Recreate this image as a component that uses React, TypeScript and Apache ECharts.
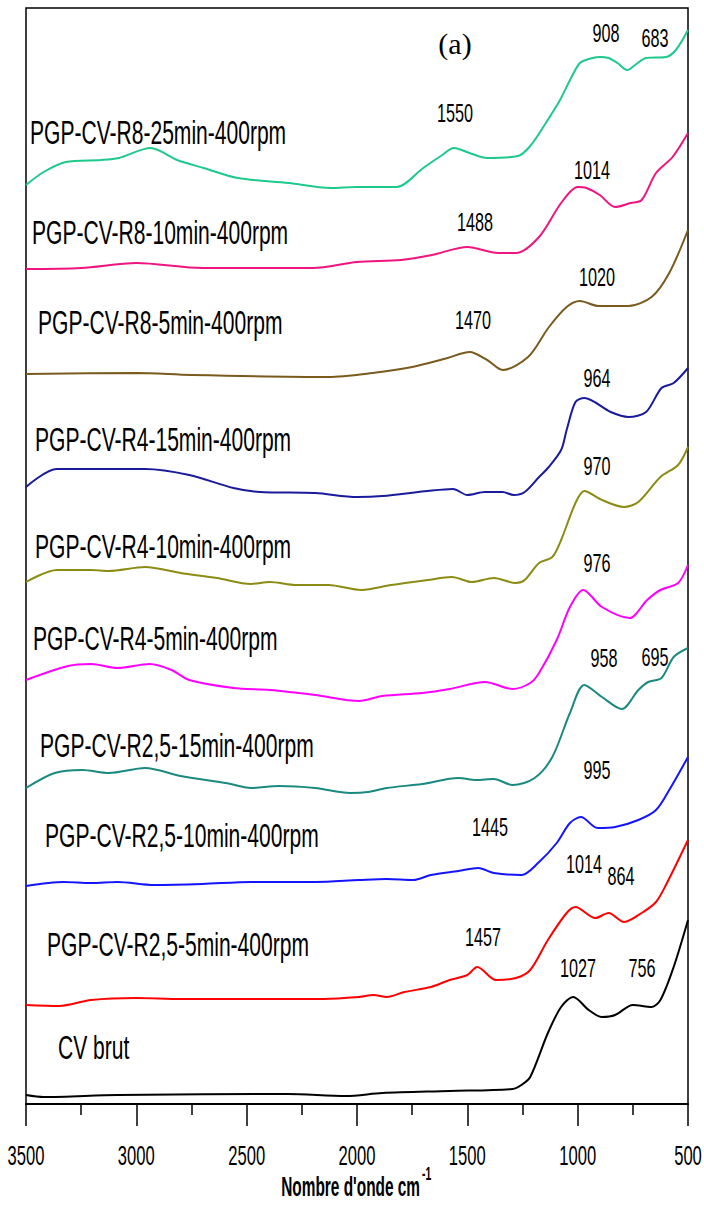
import React, { useEffect, useRef } from "react";
import * as echarts from "echarts";

// Wavenumber (cm-1) vs stacked intensity (a.u.)
const cvBrut = [[3500,9],[3420,7],[3085,9],[2315,10],[2050,8],[1885,11],[1580,13],[1295,15],[1255,19],[1215,27],[1135,71],[1075,97],[1020,107],[950,94],[890,87],[830,89],[750,99],[665,97],[625,104],[565,137],[500,184]];
const r25_5 = [[3500,99],[3350,98],[3205,104],[3000,106],[2800,105],[2440,105],[2150,105],[1990,107],[1925,109],[1865,107],[1785,112],[1665,117],[1580,124],[1500,129],[1455,137],[1370,124],[1280,126],[1215,134],[1135,164],[1050,191],[1010,197],[920,186],[860,191],[790,182],[710,191],[645,202],[600,219],[500,264]];
const r25_10 = [[3500,218],[3330,222],[3205,221],[3085,222],[2920,219],[2700,220],[2480,222],[2190,222],[1990,224],[1865,225],[1745,224],[1665,229],[1540,233],[1450,236],[1380,231],[1255,229],[1175,242],[1095,261],[1035,281],[985,287],[910,276],[830,277],[725,284],[645,294],[585,314],[500,347]];
const r25_15 = [[3500,316],[3370,331],[3245,334],[3125,331],[2960,336],[2800,328],[2595,321],[2480,316],[2355,318],[2190,316],[2030,311],[1950,312],[1865,316],[1705,320],[1540,326],[1460,324],[1380,325],[1295,319],[1195,326],[1115,347],[1035,391],[970,419],[890,407],[800,395],[725,414],[680,422],[620,426],[565,447],[500,456]];
const r4_5 = [[3500,424],[3310,438],[3205,440],[3085,436],[2940,440],[2840,434],[2760,424],[2560,416],[2395,414],[2190,409],[1990,403],[1885,408],[1705,411],[1580,415],[1420,422],[1295,415],[1215,421],[1175,431],[1095,464],[1035,497],[975,514],[890,497],[765,486],[685,504],[625,514],[545,521],[500,539]];
const r4_10 = [[3500,522],[3360,534],[3205,534],[3125,533],[2960,537],[2800,531],[2635,526],[2480,520],[2395,522],[2275,519],[2130,519],[1980,514],[1845,519],[1680,524],[1570,527],[1480,522],[1380,526],[1280,521],[1240,524],[1175,541],[1115,547],[1075,564],[1010,601],[970,613],[890,604],[790,597],[725,602],[625,627],[545,639],[500,657]];
const r4_15 = [[3500,617],[3360,635],[2960,635],[2760,629],[2560,616],[2440,612],[2190,611],[2000,607],[1885,608],[1680,613],[1565,615],[1500,609],[1420,612],[1340,612],[1290,609],[1240,612],[1175,627],[1135,636],[1075,654],[1050,674],[1010,702],[970,706],[850,692],[770,687],[690,692],[620,716],[565,721],[500,736]];
const r8_5 = [[3500,730],[3000,731],[2750,729],[2130,727],[1930,731],[1750,737],[1590,746],[1490,752],[1410,744],[1340,734],[1225,747],[1130,777],[1050,797],[990,803],[905,798],[770,798],[665,807],[585,831],[500,874]];
const r8_10 = [[3500,835],[3250,836],[3000,841],[2700,836],[2200,836],[2000,842],[1800,844],[1660,849],[1500,857],[1360,851],[1280,851],[1175,867],[1075,901],[1000,917],[960,916],[900,909],[830,897],[760,901],[710,904],[645,931],[570,947],[500,971]];
const r8_25 = [[3500,919],[3420,932],[3320,942],[3160,944],[3080,946],[2935,956],[2815,944],[2695,936],[2540,926],[2310,921],[2120,916],[2000,917],[1820,917],[1700,936],[1620,948],[1560,956],[1490,951],[1410,946],[1270,948],[1215,958],[1150,979],[1080,1004],[1030,1026],[990,1041],[950,1045],[900,1047],[860,1046],[820,1041],[775,1034],[740,1039],[690,1046],[600,1047],[555,1054],[500,1074]];

const seriesNames = [
  "CV brut",
  "PGP-CV-R2,5-5min-400rpm",
  "PGP-CV-R2,5-10min-400rpm",
  "PGP-CV-R2,5-15min-400rpm",
  "PGP-CV-R4-5min-400rpm",
  "PGP-CV-R4-10min-400rpm",
  "PGP-CV-R4-15min-400rpm",
  "PGP-CV-R8-5min-400rpm",
  "PGP-CV-R8-10min-400rpm",
  "PGP-CV-R8-25min-400rpm",
];
const seriesData = [cvBrut, r25_5, r25_10, r25_15, r4_5, r4_10, r4_15, r8_5, r8_10, r8_25];
const seriesColors = ["#000000","#ff0000","#1414ff","#1a8a80","#ff00ff","#8c8c14","#1a1a9c","#7b5a1e","#f0147f","#1ec98c"];

const xTicks = [3500, 3000, 2500, 2000, 1500, 1000, 500];
const peakLabels = ["908","683","1550","1014","1488","1020","1470","964","970","976","958","695","995","1445","1014","864","1457","1027","756"];

const SANS = "'Liberation Sans', Arial, sans-serif";

// layout positions (px)
const namePos = [[58,1048],[47,945],[45,836],[40,746],[33,639],[35,547],[35,440],[38,323],[32,233],[30,133]];
const peakPos = [[606,33],[655,38],[455,113],[592,170],[475,222],[597,277],[473,320],[597,378],[597,466],[597,563],[604,658],[655,657],[597,770],[490,827],[584,864],[621,876],[483,937],[578,968],[642,968]];

export default function App() {
  const ref = useRef<HTMLDivElement>(null);
  useEffect(() => {
    if (!ref.current) return;
    const chart = echarts.init(ref.current, null, { renderer: "svg" });
    chart.setOption({
      animation: false,
      backgroundColor: "#fff",
      grid: { left: 26, right: 16, top: 8, bottom: 101, show: true, borderColor: "#000", borderWidth: 1.5, containLabel: false },
      xAxis: {
        type: "value", min: 500, max: 3500, interval: 500, inverse: true,
        axisLine: { show: true, onZero: false, lineStyle: { color: "#000", width: 2 } },
        axisTick: { show: true, inside: false, length: 22, lineStyle: { color: "#000", width: 1.5 } },
        minorTick: { show: true, splitNumber: 2, length: 11, lineStyle: { color: "#000", width: 1.5 } },
        splitLine: { show: false },
        axisLabel: { show: false },
      },
      yAxis: { type: "value", min: 0, max: 1096, show: false, splitLine: { show: false } },
      series: seriesData.map((d, i) => ({
        type: "line", name: seriesNames[i], data: d, showSymbol: false, smooth: 0.3,
        lineStyle: { color: seriesColors[i], width: 2 }, itemStyle: { color: seriesColors[i] },
      })),
    });

    const graphic: any[] = [];
    seriesNames.forEach((n, i) => {
      graphic.push({
        type: "text", x: namePos[i][0], y: namePos[i][1], scaleX: 0.81, scaleY: 1.3,
        style: { text: n, font: `26px ${SANS}`, fill: "#000", align: "left", verticalAlign: "middle" },
      });
    });
    peakLabels.forEach((t, i) => {
      graphic.push({
        type: "text", x: peakPos[i][0], y: peakPos[i][1], scaleX: 0.81, scaleY: 1.3,
        style: { text: t, font: `20px ${SANS}`, fill: "#000", align: "center", verticalAlign: "middle" },
      });
    });
    xTicks.forEach((v) => {
      const px = chart.convertToPixel({ xAxisIndex: 0 }, v) as number;
      graphic.push({
        type: "text", x: px, y: 1156, scaleX: 0.83, scaleY: 1.35,
        style: { text: String(v), font: `20px ${SANS}`, fill: "#000", align: "center", verticalAlign: "middle" },
      });
    });
    graphic.push({
      type: "text", x: 455, y: 43,
      style: { text: "(a)", font: "30px 'Liberation Serif', 'Times New Roman', serif", fill: "#000", align: "center", verticalAlign: "middle" },
    });
    graphic.push({
      type: "text", x: 420, y: 1187, scaleX: 0.77, scaleY: 1.4,
      style: { text: "Nombre d'onde cm", font: `bold 20px ${SANS}`, fill: "#000", align: "right", verticalAlign: "middle" },
    });
    graphic.push({
      type: "text", x: 422, y: 1174, scaleX: 0.8, scaleY: 1.4,
      style: { text: "-1", font: `bold 13px ${SANS}`, fill: "#000", align: "left", verticalAlign: "middle" },
    });
    chart.setOption({ graphic });
    return () => chart.dispose();
  }, []);
  return <div ref={ref} style={{ position: "fixed", left: 0, top: 0, width: 704, height: 1205 }} />;
}
